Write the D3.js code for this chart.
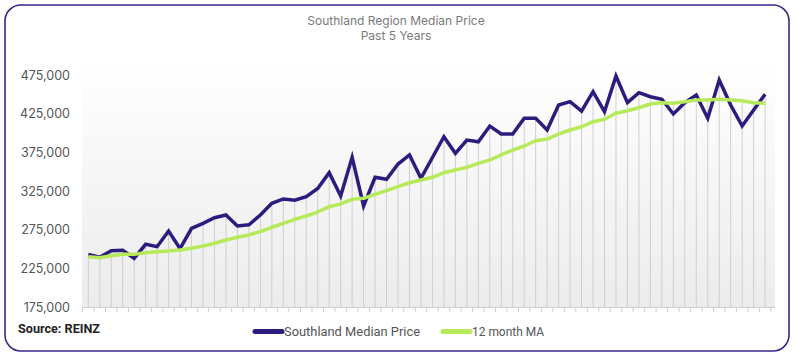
<!DOCTYPE html>
<html><head><meta charset="utf-8">
<script src="https://cdn.jsdelivr.net/npm/d3@7"></script>
<style>body{margin:0;background:#fff}svg{display:block}</style>
</head><body>
<svg id="c" width="795" height="360"></svg>
<script>
const yTicks = [175000, 225000, 275000, 325000, 375000, 425000, 475000];
const medianPrice = [243000,239300,247800,248300,238000,256100,253000,273300,250400,276800,
  283200,290500,294000,279700,281400,294000,309100,314700,313000,317600,
  328200,348700,318500,368600,305600,342700,340100,359900,371600,341400,
  368300,395200,373700,390900,388700,409000,398700,398700,419000,419000,
  403900,436200,440500,428400,453400,427500,473700,439200,452100,446900,
  443600,424600,439200,449100,419000,468500,436200,409000,429700,450000];
const movingAvg = [240000,238700,241300,243100,243100,245200,246500,247400,248700,250900,
  253900,257400,261600,265100,268100,272400,278100,283200,288400,292700,
  297800,304700,308200,314300,315600,320700,325400,330600,335700,339200,
  342700,348700,352200,355600,360800,365100,371600,378000,383200,390000,
  392200,398700,403900,408100,414600,417700,425500,428800,432700,437500,
  439200,438400,440500,442700,442700,443600,442700,441800,439200,438400];
const seriesNames = ["Southland Median Price", "12 month MA"];
const titleLines = ["Southland Region Median Price", "Past 5 Years"];
const sourceText = "Source: REINZ";

const svg = d3.select("#c");
const months = d3.range(medianPrice.length);
const plotL = 82, plotR = 775, plotT = 60, plotB = 307;
const x = d3.scalePoint().domain(months).range([88.3, 765.1]);
const step = x.step();
const y = d3.scaleLinear().domain([175000, 475000]).range([307, 75]);

// frame
svg.append("rect").attr("x", 5).attr("y", 5).attr("width", 784).attr("height", 346)
  .attr("rx", 16).attr("fill", "#fff").attr("stroke", "#32298a").attr("stroke-width", 1.6);

// gradient plot background
const defs = svg.append("defs");
const g = defs.append("linearGradient").attr("id", "bg").attr("x1", 0).attr("x2", 0).attr("y1", 0).attr("y2", 1);
g.append("stop").attr("offset", "0%").attr("stop-color", "#ffffff");
g.append("stop").attr("offset", "100%").attr("stop-color", "#ececec");
svg.append("rect").attr("x", plotL).attr("y", plotT).attr("width", plotR - plotL).attr("height", plotB - plotT)
  .attr("fill", "url(#bg)");

// title
svg.append("g").selectAll("text").data(titleLines).join("text")
  .attr("x", 396).attr("y", (d, i) => 25 + i * 14.5).attr("text-anchor", "middle")
  .attr("font-family", "Inter, sans-serif").attr("font-size", 12).attr("fill", "#7a7a7a").text(d => d);

// y axis labels
const yAxis = d3.axisLeft(y).tickValues(yTicks).tickSize(0).tickPadding(0).tickFormat(d3.format(","));
const ya = svg.append("g").attr("transform", "translate(70,0)").call(yAxis);
ya.select(".domain").remove();
ya.selectAll("text").attr("font-family", "Inter, sans-serif").attr("font-size", 12.5).attr("fill", "#555");

// drop lines
svg.append("g").selectAll("line").data(months).join("line")
  .attr("x1", d => x(d)).attr("x2", d => x(d))
  .attr("y1", plotB).attr("y2", d => y(Math.max(medianPrice[d], movingAvg[d])))
  .attr("stroke", "#cfcfcf").attr("stroke-width", 1);

// x axis with boundary ticks
svg.append("line").attr("x1", plotL).attr("x2", plotR).attr("y1", plotB + 0.5).attr("y2", plotB + 0.5)
  .attr("stroke", "#d0d0d0");
const bounds = d3.range(medianPrice.length + 1);
svg.append("g").selectAll("line").data(bounds).join("line")
  .attr("x1", d => x(0) + (d - 0.5) * step).attr("x2", d => x(0) + (d - 0.5) * step)
  .attr("y1", plotB).attr("y2", plotB + 5).attr("stroke", "#cfcfcf");

// lines
const line = d3.line().x((d, i) => x(i)).y(d => y(d));
svg.append("path").datum(medianPrice).attr("d", line).attr("fill", "none")
  .attr("stroke", "#2b1c7e").attr("stroke-width", 3.5).attr("stroke-linejoin", "miter");
svg.append("path").datum(movingAvg).attr("d", line).attr("fill", "none")
  .attr("stroke", "#b6ea5a").attr("stroke-width", 3.5).attr("stroke-linejoin", "round");

// legend
const colors = ["#2b1c7e", "#b6ea5a"];
const legX = [255, 443];
const legW = [136, 72];
const leg = svg.append("g").selectAll("g").data(seriesNames).join("g")
  .attr("transform", (d, i) => `translate(${legX[i]},331.5)`);
leg.append("line").attr("x1", 0).attr("x2", 27).attr("y1", 0).attr("y2", 0)
  .attr("stroke", (d, i) => colors[i]).attr("stroke-width", 5).attr("stroke-linecap", "round");
leg.append("text").attr("x", 29).attr("y", 0).attr("dy", "0.36em")
  .attr("font-family", "Roboto, sans-serif").attr("font-size", 12.5).attr("fill", "#555")
  .attr("textLength", (d, i) => legW[i]).attr("lengthAdjust", "spacingAndGlyphs").text(d => d);

// source
svg.append("text").attr("x", 18).attr("y", 329).attr("dy", "0.35em")
  .attr("font-family", "Roboto, sans-serif").attr("font-weight", "bold").attr("font-size", 12)
  .attr("fill", "#222").attr("textLength", 82).attr("lengthAdjust", "spacingAndGlyphs").text(sourceText);
</script>
</body></html>
